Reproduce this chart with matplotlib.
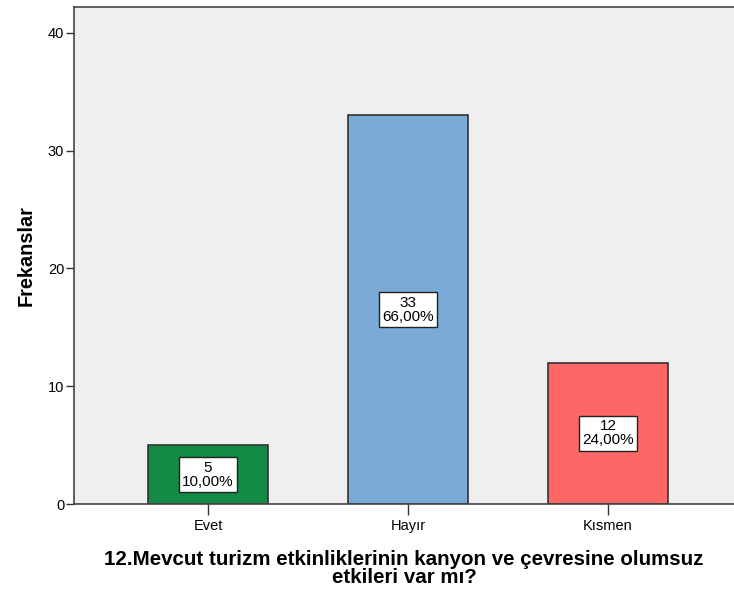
import matplotlib
matplotlib.use("Agg")
import matplotlib.pyplot as plt

categories = ["Evet", "Hayır", "Kısmen"]
counts = [5, 33, 12]
percents = ["10,00%", "66,00%", "24,00%"]
colors = ["#138A45", "#7BAAD7", "#FF6666"]
yticks = [0, 10, 20, 30, 40]
xlabel = "12.Mevcut turizm etkinliklerinin kanyon ve çevresine olumsuz\netkileri var mı?"
ylabel = "Frekanslar"

plt.rcParams['font.family'] = ['Liberation Sans', 'DejaVu Sans']

fig = plt.figure(figsize=(7.34, 5.91), dpi=100)
ax = fig.add_axes([74/734, 87/591, 1 - 74/734, (504-7)/591])
ax.set_facecolor("#EFEFEF")

x = list(range(len(categories)))
ax.bar(x, counts, width=0.6, color=colors, edgecolor="#333333", linewidth=1.2, zorder=2)

for xi, c, p in zip(x, counts, percents):
    ax.text(xi, c / 2, f"{c}\n{p}", ha="center", va="center", fontsize=11,
            linespacing=1.0, zorder=3,
            bbox=dict(boxstyle="square,pad=0.22", facecolor="white", edgecolor="#222222", linewidth=1))

ax.set_xlim(-0.67, 2.63)
ax.set_ylim(0, 42.2)
ax.set_xticks(x)
ax.set_xticklabels(categories, fontsize=10.5)
ax.set_yticks(yticks)
ax.set_yticklabels([str(t) for t in yticks], fontsize=10.5)
ax.tick_params(axis="y", length=6, width=1, color="#333333", pad=1)
ax.tick_params(axis="x", length=8, width=1, color="#333333", pad=3)

for s in ["left", "bottom", "top"]:
    ax.spines[s].set_color("#444444")
    ax.spines[s].set_linewidth(1.2)
ax.spines["right"].set_visible(False)

ax.set_xlabel(xlabel, fontsize=14.8, fontweight="bold", linespacing=0.95, labelpad=12)
ax.set_ylabel(ylabel, fontsize=14.3, fontweight="bold", labelpad=9)

fig.savefig("out.png", dpi=100)
